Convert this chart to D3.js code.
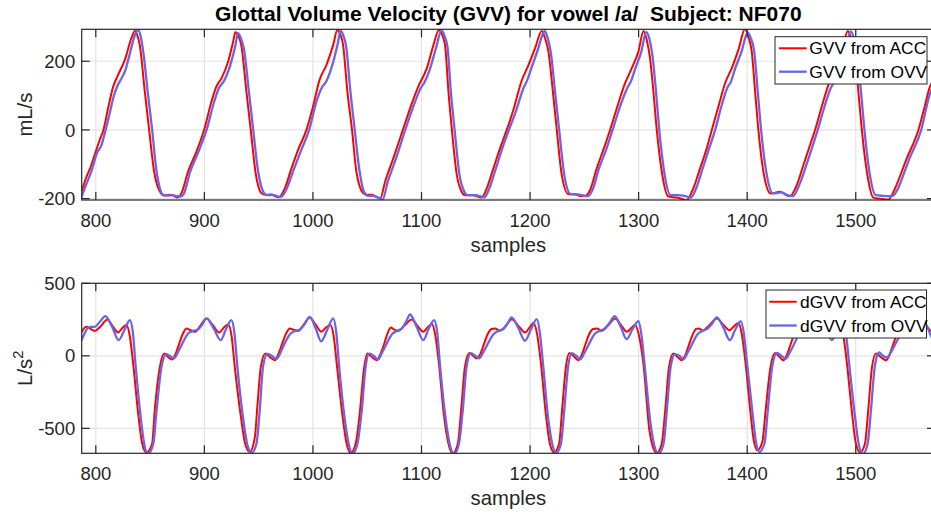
<!DOCTYPE html>
<html>
<head>
<meta charset="utf-8">
<script src="https://cdn.jsdelivr.net/npm/d3@7"></script>
<style>
  html, body { margin: 0; padding: 0; background: #fff; }
  svg { display: block; font-family: "Liberation Sans", Arial, Helvetica, sans-serif; }
</style>
</head>
<body>
<svg id="chart" width="931" height="514"></svg>
<script>
// ---- data: [sample, value] ----
const xTicks = [800, 900, 1000, 1100, 1200, 1300, 1400, 1500];
const xTickLabels = ["800", "900", "1000", "1100", "1200", "1300", "1400", "1500"];
const gvvTicks = [-200, 0, 200];
const gvvTickLabels = ["-200", "0", "200"];
const dgvvTicks = [-500, 0, 500];
const dgvvTickLabels = ["-500", "0", "500"];
const seriesNamesTop = ["GVV from ACC", "GVV from OVV"];
const seriesNamesBottom = ["dGVV from ACC", "dGVV from OVV"];

// glottal volume velocity (mL/s), accelerometer estimate
const gvvAcc = [
  [787,-178],[791,-140],[795.9,-102],[800,-62],[803.5,-30],[807,0],[811.3,63],[816,126],[820.5,160],[826.7,204],[832.8,267],[836,288],
  [838.3,275],[840.5,247],[845.1,112],[849.1,0],[853.7,-121],[859.9,-184],[863,-191],[868,-189],[872,-192],[875,-197],[878.9,-184],
  [885,-121],[892.7,-63],[899.7,0],[906.5,82],[911,126],[915.7,150],[921.9,199],[926.5,257],[928.6,285],
  [931,276],[934,247],[938.7,112],[942.7,0],[947,-121],[952.5,-184],[956,-189],[961.7,-188],[965,-193],[968.5,-196],[974.1,-170],
  [980.2,-112],[986.3,-58],[994,0],[1000.1,68],[1006,145],[1012.4,189],[1018.6,247],[1022.5,291],
  [1025,280],[1027.8,247],[1031.7,112],[1036,0],[1040,-121],[1046.2,-184],[1049.5,-189],[1054,-189],[1058,-194],[1062,-199],
  [1066.5,-150],[1074,-83],[1082.8,0],[1089.5,63],[1097,126],[1104.9,180],[1111,247],[1116,291],
  [1118.8,278],[1121.7,247],[1124.8,112],[1128,0],[1132.5,-131],[1137,-180],[1140,-190],[1148,-190],[1152,-194],[1155.5,-197],
  [1160.1,-170],[1166.2,-112],[1172.4,-53],[1178.5,0],[1184.6,58],[1192,141],[1198.5,189],[1204.6,238],[1210.8,288],
  [1213.5,270],[1216.9,228],[1221,112],[1224.6,0],[1229.2,-131],[1235.3,-187],[1241.5,-187],[1246,-192],[1250.7,-192],
  [1255.3,-175],[1261.4,-112],[1267.5,-58],[1273.7,0],[1279.9,63],[1287.5,136],[1293.7,180],[1299.8,228],[1304.5,288],
  [1307.5,262],[1310.5,209],[1313.6,112],[1316.7,0],[1321.3,-121],[1327.4,-194],[1335.1,-197],[1340,-201],[1344,-205],
  [1350.4,-170],[1356.6,-112],[1362.8,-53],[1367.4,0],[1373.5,68],[1379.6,136],[1385.8,180],[1391.9,233],[1398,294],
  [1401.2,270],[1404.2,228],[1407.3,112],[1410.3,0],[1414.9,-121],[1421.7,-185],[1430.3,-180],[1435,-188],[1439.5,-193],
  [1445.7,-160],[1451.8,-102],[1457.9,-44],[1462.5,0],[1468.7,68],[1474.8,131],[1481,180],[1487.1,233],[1492.8,288],
  [1496,262],[1499.4,218],[1502.4,112],[1505.6,0],[1510.2,-121],[1516.3,-197],[1522.4,-200],[1530,-203],
  [1536.2,-170],[1542.4,-121],[1547,-83],[1557.7,0],[1563,62],[1567.8,121],[1573,152]
];

// glottal volume velocity (mL/s), oral volume velocity estimate
const gvvOvv = [
  [787,-194],[791,-160],[795.9,-121],[801,-68],[805.2,-44],[809,0],[812.5,45],[816.5,98],[819.5,125],[823.6,150],[827,172],[830.5,212],[834,255],[836.8,282],[839,291],
  [841.5,270],[844,220],[848,105],[851.9,0],[855.5,-110],[859,-170],[862.5,-190],[867,-191],[871,-190],[875,-193],[878,-194],[881,-186],
  [887,-121],[895,-60],[902,0],[909,82],[913.5,123],[918,142],[924,190],[928.5,245],[931,282],
  [933.5,268],[936.5,235],[941,112],[945,0],[949,-110],[953.5,-175],[957.5,-190],[963,-189],[967,-193],[970.5,-195],[976,-170],
  [982,-118],[989,-60],[996.5,0],[1003,80],[1008,122],[1012,140],[1018,190],[1022.8,250],[1025.5,288],
  [1028,275],[1030.5,245],[1034.5,112],[1038.5,0],[1042.5,-110],[1047,-180],[1051,-192],[1056,-192],[1060,-197],[1064,-203],
  [1069,-150],[1076.5,-83],[1085,0],[1091.5,60],[1099,120],[1103,140],[1107.5,175],[1113.5,240],[1118.5,291],
  [1121,275],[1124,240],[1127,112],[1130.5,0],[1135,-131],[1139.5,-180],[1142.5,-190],[1150,-190],[1154,-193],[1158,-196],
  [1162.5,-170],[1168.5,-112],[1174.5,-53],[1180.5,0],[1187,55],[1194,122],[1197,142],[1201,178],[1207,232],[1213.5,288],
  [1216,270],[1219,228],[1223,112],[1226.8,0],[1231.5,-131],[1237.5,-187],[1243.5,-188],[1248,-190],[1253,-193],
  [1257.5,-175],[1263.5,-112],[1270,-58],[1276,0],[1282,60],[1290,125],[1293,142],[1296.5,175],[1302.5,228],[1307,285],
  [1309.5,270],[1313,209],[1316,112],[1319,0],[1323.5,-121],[1329.5,-190],[1336,-190],[1341,-191],[1348,-197],
  [1353,-170],[1359,-112],[1365,-53],[1370.5,0],[1376,66],[1382,125],[1385,140],[1388.5,175],[1394.5,225],[1400.5,283],
  [1403,270],[1406.5,228],[1409.7,112],[1412.8,0],[1417.5,-121],[1424,-185],[1432,-182],[1437,-190],[1442,-193],
  [1448,-160],[1454.5,-102],[1460.5,-44],[1465,0],[1471,66],[1477,122],[1480,140],[1484,175],[1490,230],[1495.5,287],
  [1498,270],[1501.5,218],[1504.8,112],[1508,0],[1512.5,-121],[1518.5,-190],[1525,-192],[1531,-193],[1534,-192],
  [1539,-170],[1545,-121],[1549.5,-83],[1560.3,0],[1567.8,100],[1573,140]
];

// derivative of glottal volume velocity (L/s^2), accelerometer estimate
const dgvvAcc = [
  [787,166],[791.3,200],[795,186],[799,172],[804,200],[810.7,251],[815.5,205],[820.5,161],[824.5,192],[828.2,212],[831.2,140],[834.4,-53],
  [839,-397],[842.7,-604],[846.6,-666],[851.9,-604],[854.3,-374],[859,-76],[863,16],[866.5,-8],[870.3,-25],[873,5],[875.8,62],[879.5,140],
  [883.5,189],[887,178],[891.2,166],[896,205],[901.9,258],[907.5,215],[913.6,161],[918,195],[921.9,216],[925,140],[928,-76],
  [934,-440],[937.5,-604],[941.8,-662],[946.5,-560],[949,-330],[952,-76],[956.2,16],[960.5,-10],[964.9,-30],[968,10],[971.5,80],[975,150],
  [978.7,189],[982,180],[986.3,172],[991.5,215],[997.1,265],[1002.5,215],[1007.8,166],[1012,195],[1016,212],[1019,140],[1022,-60],
  [1027,-400],[1031,-604],[1034.9,-670],[1039.5,-600],[1043.4,-374],[1047,-90],[1050.2,16],[1054.5,-10],[1058.8,-30],[1062,10],[1065.5,80],
  [1069,160],[1071.7,196],[1075,180],[1078.7,172],[1084.5,210],[1091,251],[1096.5,205],[1101.7,166],[1105.5,195],[1109.5,219],[1112.5,150],
  [1116,-50],[1120.5,-400],[1124.8,-604],[1128.8,-673],[1133.5,-604],[1136.5,-374],[1140,-76],[1144.1,20],[1147.5,0],[1150.9,-18],[1154,10],
  [1157.5,80],[1161,150],[1164.5,185],[1167.8,189],[1172,172],[1177.5,205],[1183.2,253],[1189.5,205],[1195.4,161],[1199.5,195],[1203,226],
  [1206.5,150],[1210,-50],[1214.5,-400],[1218.2,-604],[1222.1,-666],[1226.8,-604],[1229.5,-374],[1233,-76],[1236.2,20],[1240.5,-5],
  [1244.5,-30],[1247.5,5],[1251,80],[1254.5,150],[1258,185],[1261.4,189],[1266,172],[1272,210],[1278.3,258],[1283.5,215],[1289.1,166],
  [1293,190],[1296.7,212],[1300,150],[1304.5,-60],[1309.9,-512],[1312.8,-620],[1316.7,-670],[1321.3,-604],[1324.5,-374],[1328,-76],
  [1332,16],[1336,-8],[1339.7,-30],[1343,5],[1346.5,80],[1350,150],[1353,185],[1355,189],[1359.3,175],[1365.5,215],[1372,258],[1378,215],
  [1383.6,176],[1388,205],[1391.9,226],[1395,150],[1398.5,-50],[1403,-390],[1406,-580],[1409.4,-650],[1414,-590],[1417,-374],[1421.5,-76],
  [1425.7,20],[1429.5,-5],[1433.3,-30],[1436.5,5],[1440,80],[1443.5,150],[1447,185],[1450,189],[1455,172],[1460.5,210],[1466,258],
  [1471.5,210],[1477,166],[1481,195],[1485,215],[1488.5,140],[1492,-60],[1496.5,-390],[1500,-600],[1504,-666],[1508.5,-604],[1511.5,-374],
  [1515,-76],[1518.7,16],[1523,-8],[1527.9,-30],[1531,5],[1534.5,80],[1538,150],[1541.5,192],[1547,178],[1553,215],[1559,255],
  [1564.5,215],[1570,168],[1573,185]
];

// derivative of glottal volume velocity (L/s^2), oral volume velocity estimate
const dgvvOvv = [
  [787,110],[790,160],[793,195],[796,200],[799,200],[803,228],[808.9,274],[815,200],[821,108],[826.5,180],[831.3,246],[834,170],[836.5,-53],
  [841,-400],[844.5,-604],[848,-677],[853,-604],[856,-374],[860.5,-76],[865,12],[868.5,-2],[872,-18],[876,30],[879,74],[885,154],
  [889.6,172],[894.2,182],[898,215],[902,258],[908.5,190],[915,108],[920,185],[925,246],[927.8,150],[930.4,-76],[935.5,-420],[939.5,-610],
  [943.5,-670],[948,-604],[951,-374],[954,-76],[958,14],[962,0],[966.5,-20],[970,20],[973,70],[979,150],[983.5,172],[988,182],[992,215],
  [997,268],[1002.5,190],[1007.5,100],[1013.5,185],[1018.6,258],[1021.5,160],[1024,-60],[1029,-420],[1033,-610],[1036.5,-675],[1041,-604],
  [1045,-374],[1048.5,-76],[1052,15],[1056,0],[1060,-25],[1063.5,20],[1067,70],[1073,150],[1077.5,172],[1082,190],[1085.5,230],[1089.5,285],
  [1095.5,200],[1101.7,108],[1106.5,185],[1111.6,246],[1114.5,160],[1117,-60],[1122,-420],[1126,-610],[1130,-677],[1134.5,-604],[1138,-374],
  [1141.5,-76],[1145.5,18],[1149.5,0],[1153,-18],[1157,25],[1160.5,75],[1166.5,150],[1171,172],[1175.5,185],[1179,220],[1183,265],
  [1189,195],[1195.4,104],[1201,185],[1206.2,253],[1209,160],[1212,-60],[1216.5,-420],[1220.5,-610],[1224,-670],[1228.5,-604],[1231.5,-374],
  [1235,-76],[1238.5,18],[1242.5,0],[1246.5,-22],[1250,20],[1253.5,70],[1259.5,150],[1264,172],[1268.5,188],[1273,225],[1278,274],
  [1283.5,200],[1289,115],[1294.5,185],[1299.8,239],[1302.5,150],[1305.5,-60],[1311,-470],[1314.5,-620],[1318.2,-677],[1323,-604],
  [1326,-374],[1329.5,-76],[1333.5,12],[1337.5,0],[1341.5,-22],[1345,20],[1348.5,70],[1354.5,150],[1359,172],[1363.5,188],[1367.5,220],
  [1372,265],[1378,195],[1384,108],[1389,180],[1394,239],[1397,150],[1400,-60],[1405,-400],[1408,-590],[1411.2,-662],[1416,-600],
  [1419,-374],[1423,-76],[1427.5,20],[1431.5,0],[1435.5,-20],[1439,20],[1442.5,70],[1448,150],[1452.5,172],[1457,186],[1461.5,220],
  [1466,262],[1472,195],[1478,108],[1483,180],[1488,240],[1491,150],[1494,-60],[1499,-400],[1502.5,-600],[1506.5,-677],[1511,-604],
  [1514,-374],[1517.5,-76],[1521.5,23],[1525,0],[1528.5,-11],[1532.5,25],[1536,75],[1542,150],[1546.5,172],[1551,188],[1555.5,222],
  [1560,265],[1566,195],[1572,110],[1574,130]
];

// ---- layout ----
const svg = d3.select("#chart");
const W = 931, H = 514;
svg.append("rect").attr("width", W).attr("height", H).attr("fill", "#fff");

const FONT_TICK = 18.5, FONT_LABEL = 20.3, FONT_TITLE = 21, FONT_LEGEND = 17.4;
const axisColor = "#262626";
const gridColor = "#e3e3e3";
const accColor = "#ff0000";
const ovvColor = "#6666e8";
const plotLeft = 81.7, plotRight = 935;

const x = d3.scaleLinear().domain([787, 1573]).range([plotLeft, plotRight]);

const panels = [
  {
    id: "gvv", top: 29.3, bottom: 200, yDomain: [-204, 293],
    yTicks: gvvTicks, yTickLabels: gvvTickLabels,
    series: [gvvAcc, gvvOvv], names: seriesNamesTop,
    ylabel: [{t: "mL/s"}],
    legend: {x: 775, y: 36.7, w: 152, h: 47.3, lx0: 779, lx1: 806.7, tx: 809.3}
  },
  {
    id: "dgvv", top: 283.3, bottom: 453.3, yDomain: [-672, 500],
    yTicks: dgvvTicks, yTickLabels: dgvvTickLabels,
    series: [dgvvAcc, dgvvOvv], names: seriesNamesBottom,
    ylabel: [{t: "L/s"}, {t: "2", sup: true}],
    legend: {x: 766, y: 290, w: 160.5, h: 48, lx0: 769.3, lx1: 796.7, tx: 800}
  }
];

const colors = [accColor, ovvColor];
const widths = [2, 2.3];
const tickLen = 8;

panels.forEach(p => {
  const y = d3.scaleLinear().domain(p.yDomain).range([p.bottom, p.top]);
  const g = svg.append("g");

  const clipId = "clip-" + p.id;
  svg.append("defs").append("clipPath").attr("id", clipId)
    .append("rect").attr("x", plotLeft).attr("y", p.top)
    .attr("width", plotRight - plotLeft).attr("height", p.bottom - p.top);

  // grid
  g.selectAll(".gx").data(xTicks).join("line")
    .attr("x1", d => x(d)).attr("x2", d => x(d))
    .attr("y1", p.top).attr("y2", p.bottom)
    .attr("stroke", gridColor).attr("stroke-width", 1.2);
  g.selectAll(".gy").data(p.yTicks).join("line")
    .attr("x1", plotLeft).attr("x2", plotRight)
    .attr("y1", d => y(d)).attr("y2", d => y(d))
    .attr("stroke", gridColor).attr("stroke-width", 1.2);

  // data lines
  const line = d3.line().x(d => x(d[0])).y(d => y(d[1])).curve(d3.curveMonotoneX);
  const lg = g.append("g").attr("clip-path", `url(#${clipId})`);
  p.series.forEach((s, i) => {
    lg.append("path").datum(s).attr("d", line)
      .attr("fill", "none").attr("stroke", colors[i]).attr("stroke-width", widths[i])
      .attr("stroke-linejoin", "round").attr("stroke-linecap", "round");
  });

  // axes box
  g.append("rect").attr("x", plotLeft).attr("y", p.top)
    .attr("width", plotRight - plotLeft).attr("height", p.bottom - p.top)
    .attr("fill", "none").attr("stroke", axisColor).attr("stroke-width", 1.2);

  // inward ticks on all four sides
  const tk = g.append("g").attr("stroke", axisColor).attr("stroke-width", 1.2);
  xTicks.forEach(t => {
    tk.append("line").attr("x1", x(t)).attr("x2", x(t)).attr("y1", p.bottom).attr("y2", p.bottom - tickLen);
    tk.append("line").attr("x1", x(t)).attr("x2", x(t)).attr("y1", p.top).attr("y2", p.top + tickLen);
  });
  p.yTicks.forEach(t => {
    tk.append("line").attr("x1", plotLeft).attr("x2", plotLeft + tickLen).attr("y1", y(t)).attr("y2", y(t));
    tk.append("line").attr("x1", plotRight).attr("x2", plotRight - tickLen).attr("y1", y(t)).attr("y2", y(t));
  });

  // tick labels
  g.selectAll(".xl").data(xTicks).join("text")
    .attr("x", d => x(d)).attr("y", p.bottom + 26.5)
    .attr("text-anchor", "middle").attr("font-size", FONT_TICK).attr("fill", axisColor)
    .text((d, i) => xTickLabels[i]);
  g.selectAll(".yl").data(p.yTicks).join("text")
    .attr("x", plotLeft - 6.5).attr("y", d => y(d) + 6.6)
    .attr("text-anchor", "end").attr("font-size", FONT_TICK).attr("fill", axisColor)
    .text((d, i) => p.yTickLabels[i]);

  // axis labels
  g.append("text").attr("x", (plotLeft + plotRight) / 2).attr("y", p.bottom + 51.5)
    .attr("text-anchor", "middle").attr("font-size", FONT_LABEL).attr("fill", axisColor)
    .text("samples");
  const yl = g.append("text")
    .attr("transform", `translate(31.5,${(p.top + p.bottom) / 2}) rotate(-90)`)
    .attr("text-anchor", "middle").attr("font-size", FONT_LABEL).attr("fill", axisColor);
  p.ylabel.forEach(part => {
    const ts = yl.append("tspan").text(part.t);
    if (part.sup) ts.attr("font-size", FONT_LABEL * 0.72).attr("dy", -9);
  });

  // legend
  const L = p.legend;
  const leg = g.append("g");
  leg.append("rect").attr("x", L.x).attr("y", L.y).attr("width", L.w).attr("height", L.h)
    .attr("fill", "#fff").attr("stroke", axisColor).attr("stroke-width", 1);
  p.names.forEach((n, i) => {
    const ry = L.y + L.h * (i === 0 ? 0.245 : 0.74);
    leg.append("line").attr("x1", L.lx0).attr("x2", L.lx1).attr("y1", ry).attr("y2", ry)
      .attr("stroke", colors[i]).attr("stroke-width", widths[i]);
    leg.append("text").attr("x", L.tx).attr("y", ry + 6.2)
      .attr("font-size", FONT_LEGEND).attr("fill", "#000").text(n);
  });
});

// title
svg.append("text").attr("x", (plotLeft + plotRight) / 2).attr("y", 21)
  .attr("text-anchor", "middle").attr("font-size", FONT_TITLE).attr("font-weight", "bold")
  .attr("fill", "#000").text("Glottal Volume Velocity (GVV) for vowel /a/  Subject: NF070")
  .attr("xml:space", "preserve").style("white-space", "pre");
</script>
</body>
</html>
